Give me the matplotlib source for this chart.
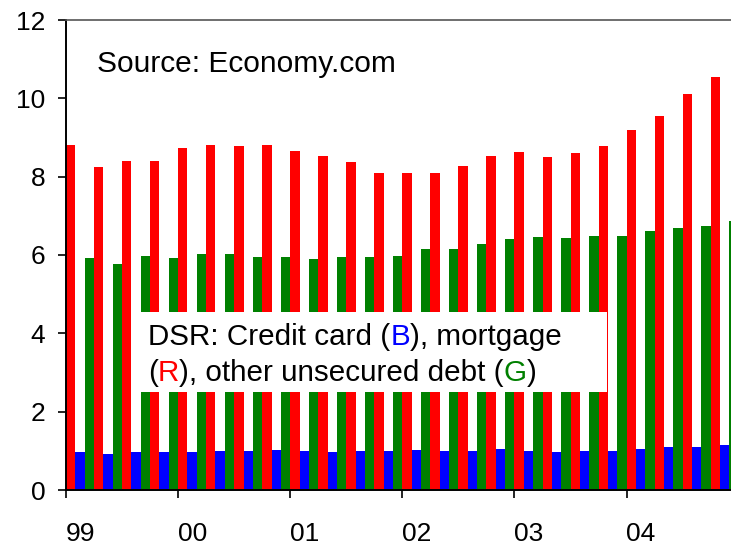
import matplotlib
matplotlib.use("Agg")
import matplotlib.pyplot as plt
import numpy as np
from matplotlib.patches import Rectangle

plt.rcParams['font.family'] = ['Liberation Sans', 'DejaVu Sans']

# Quarterly data, 1999Q1 .. 2004Q4
years = ["99", "00", "01", "02", "03", "04"]
mortgage = [8.81, 8.25, 8.40, 8.40, 8.73, 8.81, 8.78, 8.81, 8.65, 8.53, 8.37, 8.09,
            8.09, 8.09, 8.27, 8.53, 8.63, 8.50, 8.60, 8.78, 9.19, 9.55, 10.11, 10.54]
credit_card = [0.97, 0.92, 0.97, 0.97, 0.97, 1.00, 1.00, 1.02, 1.00, 0.97, 1.00, 1.00,
               1.02, 1.00, 1.00, 1.05, 1.00, 0.97, 1.00, 1.00, 1.05, 1.10, 1.10, 1.15]
other = [5.92, 5.77, 5.97, 5.92, 6.02, 6.02, 5.95, 5.95, 5.90, 5.95, 5.95, 5.97,
         6.15, 6.15, 6.28, 6.41, 6.46, 6.43, 6.48, 6.48, 6.61, 6.69, 6.74, 6.87]

W, H = 731, 545
fig = plt.figure(figsize=(W / 100, H / 100), dpi=100)
ax_left, ax_bottom, ax_top = 66, 490, 20
px_per_q = 28.03
nq = len(mortgage)
ax = fig.add_axes([ax_left / W, (H - ax_bottom) / H, nq * px_per_q / W, (ax_bottom - ax_top) / H])

x = np.arange(nq)
bw = 1 / 3
ax.bar(x + bw / 2, mortgage, width=bw, color='#FF0000', linewidth=0, zorder=2)
ax.bar(x + 3 * bw / 2, credit_card, width=bw, color='#0000FF', linewidth=0, zorder=2)
ax.bar(x + 5 * bw / 2, other, width=bw, color='#008000', linewidth=0, zorder=2)

ax.set_xlim(0, nq)
ax.set_ylim(0, 12)
ax.set_yticks(np.arange(0, 13, 2))
ax.set_yticklabels([str(v) for v in range(0, 13, 2)])
ax.tick_params(axis='y', direction='out', length=5.8, width=1.2, pad=9, labelsize=19)

ax.set_xticks(np.arange(0, nq, 4))
ax.set_xticklabels([])
ax.set_xticks(np.arange(0, nq, 4) + 0.5, minor=True)
ax.set_xticklabels(years, minor=True)
ax.tick_params(axis='x', which='major', direction='out', length=6, width=1.2)
ax.tick_params(axis='x', which='minor', length=0, pad=23, labelsize=19)

for s in ['left', 'bottom']:
    ax.spines[s].set_color('black')
    ax.spines[s].set_linewidth(1.4)
ax.spines['top'].set_color('#555555')
ax.spines['top'].set_linewidth(1.2)
ax.spines['right'].set_visible(False)

fig.text(97 / W, (H - 72) / H, "Source: Economy.com", fontsize=21.5, ha='left', va='baseline')

# Annotation box
box = Rectangle((137 / W, (H - 392) / H), 470 / W, 80 / H, transform=fig.transFigure,
                facecolor='white', edgecolor='none', zorder=5)
fig.patches.append(box)

renderer = fig.canvas.get_renderer()


def colored_line(pieces, x0_px, ybase_px, fs=21.3):
    xpos = x0_px
    for txt, col in pieces:
        t = fig.text(xpos / W, (H - ybase_px) / H, txt, color=col, fontsize=fs,
                     ha='left', va='baseline', zorder=6)
        bb = t.get_window_extent(renderer=renderer)
        xpos = bb.x1


line1 = [("DSR: Credit card (", 'black'), ("B", '#0000FF'), ("), mortgage", 'black')]
line2 = [("(", 'black'), ("R", '#FF0000'), ("), other unsecured debt (", 'black'),
         ("G", '#008000'), (")", 'black')]
colored_line(line1, 148, 345)
colored_line(line2, 148, 381)

fig.savefig("out.png", dpi=100)
